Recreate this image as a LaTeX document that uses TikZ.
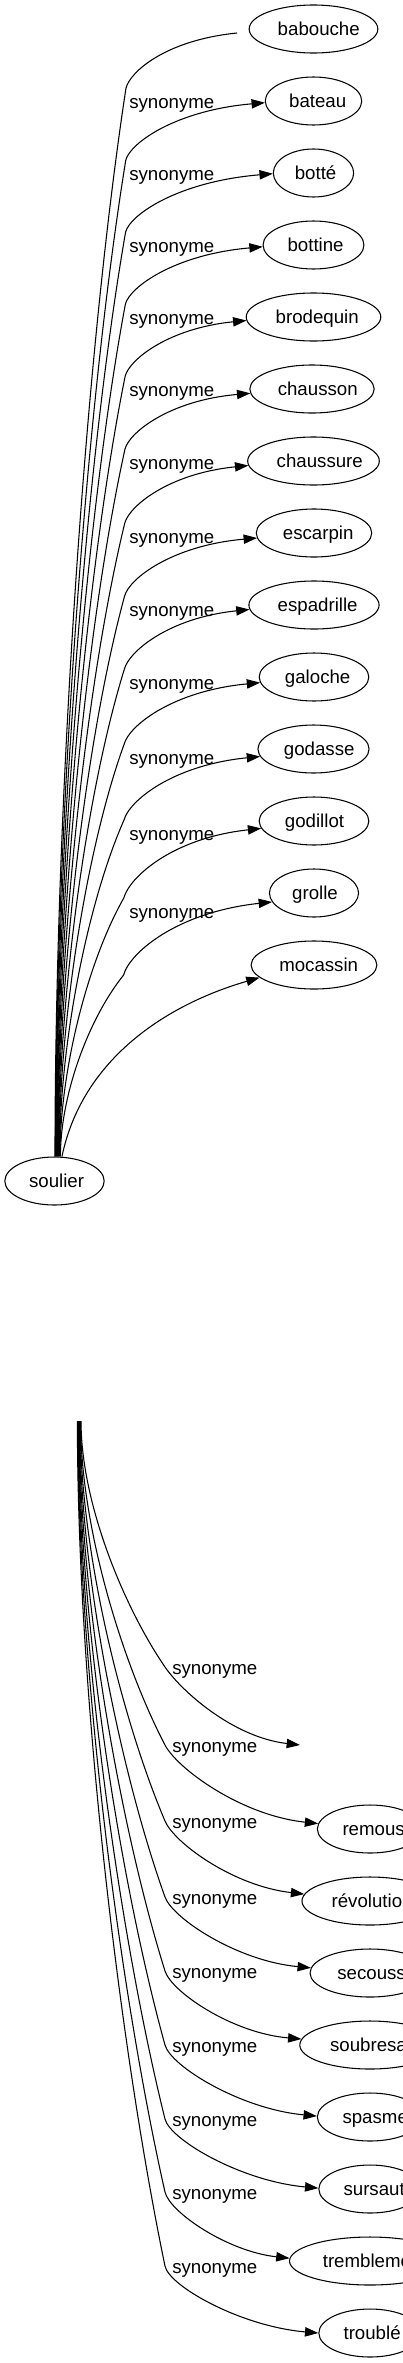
\documentclass[tikz,border=0pt]{standalone}
\usepackage{fontspec}
\setmainfont{Liberation Sans}
\newfontfamily\tmsfont{Liberation Serif}
\usetikzlibrary{arrows.meta,shapes.geometric}
\newsavebox\gvbox
\newcommand\gv[1]{\sbox\gvbox{\tmsfont #1}\makebox[\wd\gvbox][l]{#1}}
\tikzset{
 word/.style={ellipse, draw, line width=0.8pt, inner xsep=7.3pt, inner ysep=0pt,
   minimum height=36pt, text height=11pt, text depth=2pt,
   font=\fontsize{14pt}{16pt}\selectfont},
 lbl/.style={anchor=base west, inner sep=0pt, font=\fontsize{14pt}{16pt}\selectfont},
 edge/.style={draw, line width=0.8pt, -{Triangle[length=10pt,width=7pt]}},
 bare/.style={draw, line width=0.8pt},
}
% upward edge from soulier: #1 style, #2 xs, #3 xb, #4 yb, #5 xt, #6 yt, #7 target
\newcommand\upedge[7]{%
 \pgfmathsetmacro\eHH{1157-#4}%
 \pgfmathsetmacro\eAA{2.3*(#3-#2)/\eHH}%
 \pgfmathsetmacro\ePy{1157-0.33*\eHH}%
 \pgfmathsetmacro\eQx{#3-\eAA*0.25*\eHH}%
 \pgfmathsetmacro\eQy{#4+0.25*\eHH}%
 \pgfmathsetmacro\eDD{#4-#6}%
 \pgfmathsetmacro\eRx{#3+0.08*\eDD}%
 \pgfmathsetmacro\eRy{#4-0.3*\eDD}%
 \pgfmathsetmacro\eSx{#3+0.36*(#5-#3)}%
 \pgfmathsetmacro\eSy{#6+0.13*\eDD}%
 \pgfmathsetmacro\eSX{(#2-54.5)*0.75}%
 \path[#1] ([xshift=\eSX pt]soulier.north) .. controls (#2,\ePy) and (\eQx,\eQy) .. (#3,#4)
   .. controls (\eRx,\eRy) and (\eSx,\eSy) .. (#7);
}
% downward edge from src: #1 style, #2 xs, #3 xb, #4 yb, #5 xt, #6 yt, #7 target
\newcommand\downedge[7]{%
 \pgfmathsetmacro\eHH{#4-1421}%
 \pgfmathsetmacro\eAA{2.0*(#3-#2)/\eHH}%
 \pgfmathsetmacro\ePy{1421+0.33*\eHH}%
 \pgfmathsetmacro\eQx{#3-\eAA*0.25*\eHH}%
 \pgfmathsetmacro\eQy{#4-0.25*\eHH}%
 \pgfmathsetmacro\eDD{#6-#4}%
 \pgfmathsetmacro\eRx{#3+\eAA*0.3*\eDD}%
 \pgfmathsetmacro\eRy{#4+0.3*\eDD}%
 \pgfmathsetmacro\eSx{#3+0.5*(#5-#3)}%
 \pgfmathsetmacro\eSy{#6-0.1*\eDD}%
 \pgfmathsetmacro\eSX{(#2-79)*0.75}%
 \path[#1] ([xshift=\eSX pt]src) .. controls (#2,\ePy) and (\eQx,\eQy) .. (#3,#4)
   .. controls (\eRx,\eRy) and (\eSx,\eSy) .. (#7);
}
\begin{document}
\begin{tikzpicture}[x=0.75pt,y=-0.75pt]
\useasboundingbox (0,0) rectangle (403,2363);
\clip (0,0) rectangle (403,2363);

% ---------- upper graph ----------
\node[word] (soulier)    at (54.5,1181) {\gv{soulier}};
\node[word] (babouche)   at (313.5,29)  {\gv{babouche}};
\node[word] (bateau)     at (313.5,101) {\gv{bateau}};
\node[word] (botte)      at (313.5,173) {\gv{botté}};
\node[word] (bottine)    at (313.5,245) {\gv{bottine}};
\node[word] (brodequin)  at (313.5,317) {\gv{brodequin}};
\node[word] (chausson)   at (312,389)   {\gv{chausson}};
\node[word] (chaussure)  at (313.5,461) {\gv{chaussure}};
\node[word] (escarpin)   at (314,533)   {\gv{escarpin}};
\node[word] (espadrille) at (314,605)   {\gv{espadrille}};
\node[word] (galoche)    at (314,677)   {\gv{galoche}};
\node[word] (godasse)    at (313.5,749) {\gv{godasse}};
\node[word] (godillot)   at (314,821)   {\gv{godillot}};
\node[word] (grolle)     at (314,893)   {\gv{grolle}};
\node[word] (mocassin)   at (314,965)   {\gv{mocassin}};
\coordinate (babend) at (237,33);

\node[lbl] (l1)  at (129,108) {synonyme};
\node[lbl] (l2)  at (129,180) {synonyme};
\node[lbl] (l3)  at (129,252) {synonyme};
\node[lbl] (l4)  at (129,324) {synonyme};
\node[lbl] (l5)  at (129,396) {synonyme};
\node[lbl] (l6)  at (129,469) {synonyme};
\node[lbl] (l7)  at (129,543) {synonyme};
\node[lbl] (l8)  at (129,616) {synonyme};
\node[lbl] (l9)  at (129,689) {synonyme};
\node[lbl] (l10) at (129,764) {synonyme};
\node[lbl] (l11) at (129,840) {synonyme};
\node[lbl] (l12) at (129,918) {synonyme};

\upedge{bare}{55}{126}{88}{237}{33}{babend}
\upedge{edge}{55.45}{125.8}{160}{265}{103}{bateau.182}
\upedge{edge}{55.9}{125.6}{232}{272}{174}{botte.181}
\upedge{edge}{56.35}{125.4}{304}{263}{247}{bottine.182}
\upedge{edge}{56.8}{125.2}{376}{246}{321}{brodequin.183}
\upedge{edge}{57.25}{125}{449}{250}{393}{chausson.184}
\upedge{edge}{57.7}{124.8}{523}{248}{466}{chaussure.184}
\upedge{edge}{58.15}{124.6}{596}{256}{538}{escarpin.185}
\upedge{edge}{58.6}{124.4}{669}{249}{610}{espadrille.184}
\upedge{edge}{59.05}{124.2}{744}{259}{683}{galoche.186}
\upedge{edge}{59.5}{124}{820}{258}{757}{godasse.188}
\upedge{edge}{59.95}{123.8}{898}{259}{829}{godillot.188}
\upedge{edge}{60.4}{123.6}{975}{269}{903}{grolle.192}
\path[edge] ([xshift=5.6pt]soulier.north) .. controls (82,1060) and (165,1005) .. (mocassin.193);

% ---------- lower graph ----------
\coordinate (src) at (79,1421);
\coordinate (emptyend) at (300,1745);
\node[word] (remous)      at (370,1829) {\gv{remous}};
\node[word] (revolution)  at (370,1901) {\gv{révolution}};
\node[word] (secousse)    at (370,1973) {\gv{secousse}};
\node[word] (soubresaut)  at (370,2045) {\gv{soubresaut}};
\node[word] (spasme)      at (370,2117) {\gv{spasme}};
\node[word] (sursaut)     at (370,2189) {\gv{sursaut}};
\node[word] (tremblement) at (370,2261) {\gv{tremblement}};
\node[word] (trouble)     at (370,2333) {\gv{troublé}};

\node[lbl] (m1) at (172,1674) {synonyme};
\node[lbl] (m2) at (172,1752) {synonyme};
\node[lbl] (m3) at (172,1828) {synonyme};
\node[lbl] (m4) at (172,1904) {synonyme};
\node[lbl] (m5) at (172,1978) {synonyme};
\node[lbl] (m6) at (172,2052) {synonyme};
\node[lbl] (m7) at (172,2126) {synonyme};
\node[lbl] (m8) at (172,2199) {synonyme};
\node[lbl] (m9) at (172,2273) {synonyme};

\downedge{edge}{81}{165}{1667}{300}{1745}{emptyend}
\downedge{edge}{80.55}{165}{1745}{316}{1823}{remous.174}
\downedge{edge}{80.1}{165}{1821}{300}{1893}{revolution.174}
\downedge{edge}{79.65}{165}{1897}{309}{1968}{secousse.175}
\downedge{edge}{79.2}{165}{1971}{299}{2040}{soubresaut.175}
\downedge{edge}{78.75}{165}{2045}{316}{2116}{spasme.179}
\downedge{edge}{78.3}{165}{2119}{317}{2188}{sursaut.179}
\downedge{edge}{77.85}{165}{2192}{289}{2258}{tremblement.178}
\downedge{edge}{77.4}{165}{2266}{316}{2333}{trouble.180}
\end{tikzpicture}
\end{document}
